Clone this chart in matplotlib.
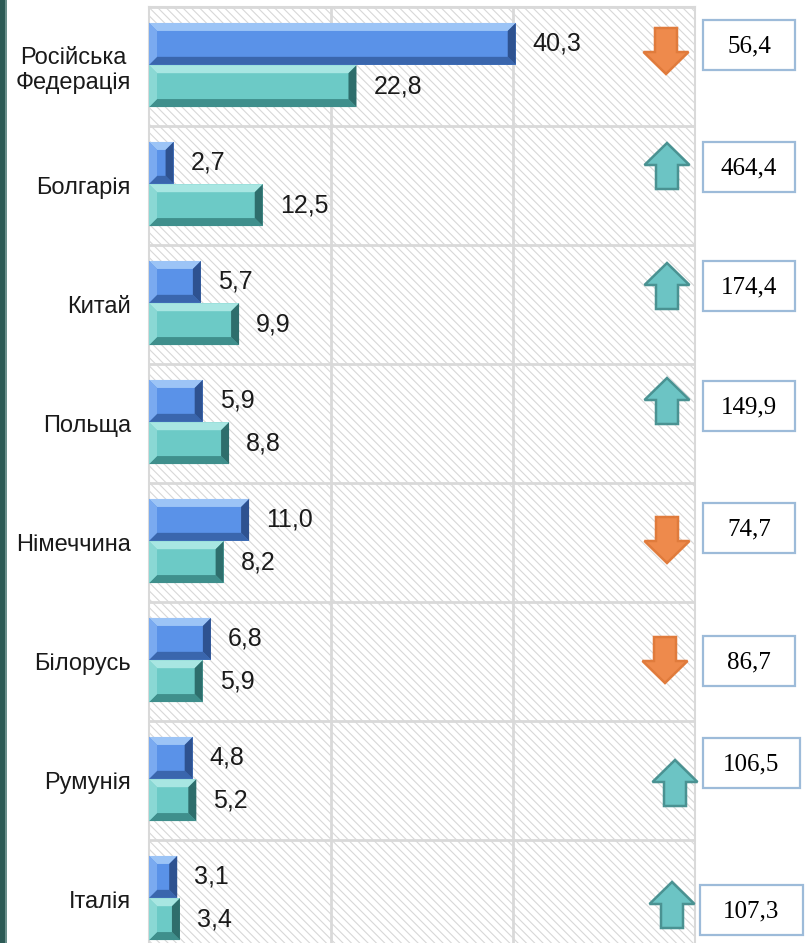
import numpy as np
import matplotlib.pyplot as plt
from matplotlib.patches import Rectangle, Polygon

# Дані
countries = ['Російська\nФедерація', 'Болгарія', 'Китай', 'Польща',
             'Німеччина', 'Білорусь', 'Румунія', 'Італія']
series_blue = [40.3, 2.7, 5.7, 5.9, 11.0, 6.8, 4.8, 3.1]
series_teal = [22.8, 12.5, 9.9, 8.8, 8.2, 5.9, 5.2, 3.4]
ratio = [56.4, 464.4, 174.4, 149.9, 74.7, 86.7, 106.5, 107.3]

# Розміщення стрілок і рамок (пікселі)
arrow_y = [51, 166, 286, 401, 540, 660, 783, 905]
arrow_x = [666, 667, 667, 667, 667, 665, 675, 672]
box_y = [45, 167, 286, 406, 528, 661, 763, 910]
box_x0 = [703, 703, 703, 703, 703, 703, 703, 700]
box_x1 = [795, 795, 795, 795, 795, 795, 800, 803]

W, H = 808, 943
fig = plt.figure(figsize=(W / 100, H / 100), dpi=100)
plt.rcParams['hatch.linewidth'] = 0.8
plt.rcParams['hatch.color'] = '#d8d8d8'

ax_l, ax_r, ax_t = 149, 695, 7
row_h = 119
n = len(countries)
ax = fig.add_axes([ax_l / W, 1 - (ax_t + row_h * n) / H,
                   (ax_r - ax_l) / W, row_h * n / H])

xmax = 60
ax.set_xlim(0, xmax)
ax.set_ylim(n - 0.5, -0.5)

# штрихований фон
ax.add_patch(Rectangle((0, -0.5), xmax, n, facecolor='white', edgecolor='#d8d8d8',
                       hatch='\\\\\\\\', lw=0, zorder=0))
for gx in [20, 40]:
    ax.axvline(gx, color='#d9d9d9', lw=2, zorder=1)
for gy in np.arange(-0.5, n, 1.0):
    ax.axhline(gy, color='#d9d9d9', lw=2, zorder=1)
for s in ax.spines.values():
    s.set_color('#d9d9d9')
    s.set_linewidth(1.5)

ax.set_xticks([])
ax.set_yticks(range(n))
ax.set_yticklabels(countries, fontsize=17, family='Liberation Sans',
                   multialignment='center', color='#1a1a1a')
ax.tick_params(axis='y', length=0, pad=13)

px_x = (ax_r - ax_l) / xmax
px_y = row_h
bev = 8
dx, dy = bev / px_x, bev / px_y
bh = 0.352

styles = {
    'blue': dict(face='#5a92e8', top='#9cc4f6', bot='#3a66ad', left='#7aaaf0', right='#2e5290'),
    'teal': dict(face='#6ccac6', top='#a8e6e2', bot='#3f8f8c', left='#8ad8d4', right='#2e6e6c'),
}


def bevel_bar(v, yc, st):
    y0, y1 = yc - bh / 2, yc + bh / 2
    ddx = min(dx, v / 2)
    ax.barh(yc, v, height=bh, color=st['face'], lw=0, zorder=3)
    ax.add_patch(Polygon([(0, y0), (v, y0), (v - ddx, y0 + dy), (ddx, y0 + dy)],
                         closed=True, color=st['top'], lw=0, zorder=4))
    ax.add_patch(Polygon([(0, y1), (v, y1), (v - ddx, y1 - dy), (ddx, y1 - dy)],
                         closed=True, color=st['bot'], lw=0, zorder=4))
    ax.add_patch(Polygon([(0, y0), (ddx, y0 + dy), (ddx, y1 - dy), (0, y1)],
                         closed=True, color=st['left'], lw=0, zorder=4))
    ax.add_patch(Polygon([(v, y0), (v - ddx, y0 + dy), (v - ddx, y1 - dy), (v, y1)],
                         closed=True, color=st['right'], lw=0, zorder=4))


def fmt(v):
    return f'{v:.1f}'.replace('.', ',')


for i in range(n):
    yb = i - 0.19
    yt = i + 0.165
    bevel_bar(series_blue[i], yb, styles['blue'])
    bevel_bar(series_teal[i], yt, styles['teal'])
    ax.text(series_blue[i] + 17 / px_x, yb, fmt(series_blue[i]), va='center', ha='left',
            fontsize=18, family='Liberation Sans', color='#1a1a1a', zorder=5)
    ax.text(series_teal[i] + 17 / px_x, yt, fmt(series_teal[i]), va='center', ha='left',
            fontsize=18, family='Liberation Sans', color='#1a1a1a', zorder=5)

# накладка у пікселях для стрілок, рамок і смуги ліворуч
ov = fig.add_axes([0, 0, 1, 1])
ov.set_xlim(0, W)
ov.set_ylim(H, 0)
ov.axis('off')
ov.patch.set_alpha(0)
ov.add_patch(Rectangle((0, 0), 5, H, color='#2c5a55', lw=0))
ov.add_patch(Rectangle((5, 0), 1.5, H, color='#6a8f8b', lw=0))


def arrow(xc, yc, up):
    w, h, sw, hh = 45, 46, 22, 22
    if up:
        pts = [(xc, yc - h / 2), (xc + w / 2, yc - h / 2 + hh), (xc + sw / 2, yc - h / 2 + hh),
               (xc + sw / 2, yc + h / 2), (xc - sw / 2, yc + h / 2),
               (xc - sw / 2, yc - h / 2 + hh), (xc - w / 2, yc - h / 2 + hh)]
        fc, ec = '#6cc4c4', '#4a9292'
    else:
        pts = [(xc, yc + h / 2), (xc + w / 2, yc + h / 2 - hh), (xc + sw / 2, yc + h / 2 - hh),
               (xc + sw / 2, yc - h / 2), (xc - sw / 2, yc - h / 2),
               (xc - sw / 2, yc + h / 2 - hh), (xc - w / 2, yc + h / 2 - hh)]
        fc, ec = '#ee8a4c', '#e07b3c'
    ov.add_patch(Polygon(pts, closed=True, facecolor=fc, edgecolor=ec, lw=1.8,
                         joinstyle='miter'))


for i in range(n):
    arrow(arrow_x[i], arrow_y[i], ratio[i] >= 100)
    bw = box_x1[i] - box_x0[i]
    ov.add_patch(Rectangle((box_x0[i], box_y[i] - 25), bw, 50, facecolor='white',
                           edgecolor='#9dbbd9', lw=1.6))
    ov.text(box_x0[i] + bw / 2, box_y[i] + 1, fmt(ratio[i]), ha='center', va='center',
            fontsize=18, family='Liberation Serif', color='black')

fig.savefig('out.png', dpi=100)
